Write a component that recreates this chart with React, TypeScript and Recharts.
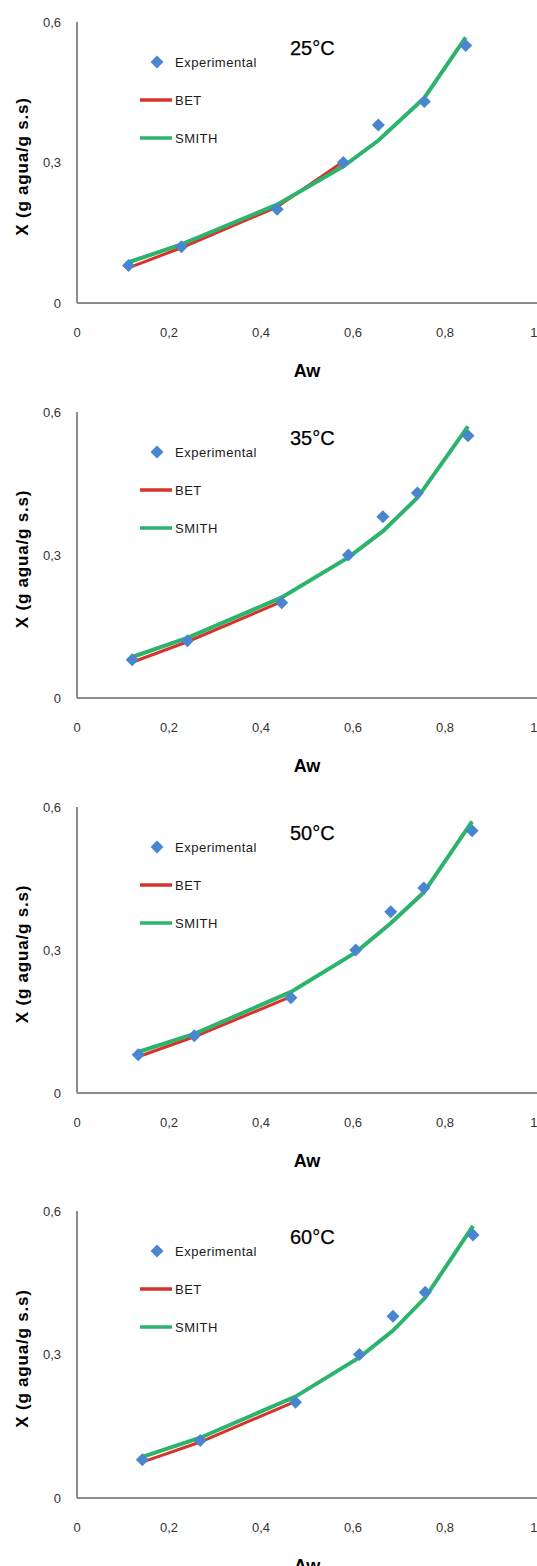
import React from "react";
import { ComposedChart, Line, Scatter, XAxis, YAxis, Legend } from "recharts";

// tick values shared by the four panels
const xTicks = [0, 0.2, 0.4, 0.6, 0.8, 1];
const yTicks = [0, 0.3, 0.6];

// experimental moisture (g agua / g s.s), same in every panel
const moisture = [0.08, 0.12, 0.2, 0.3, 0.38, 0.43, 0.55];

const aw25 = [0.112, 0.227, 0.435, 0.579, 0.655, 0.755, 0.845];
const smith25 = [0.087, 0.125, 0.21, 0.292, 0.347, 0.438, 0.567];
const bet25 = [0.075, 0.118, 0.205, 0.302];

const aw35 = [0.12, 0.24, 0.445, 0.59, 0.665, 0.74, 0.85];
const smith35 = [0.086, 0.126, 0.211, 0.295, 0.35, 0.42, 0.57];
const bet35 = [0.075, 0.118, 0.202];

const aw50 = [0.133, 0.255, 0.465, 0.606, 0.682, 0.754, 0.859];
const smith50 = [0.086, 0.124, 0.212, 0.295, 0.356, 0.421, 0.57];
const bet50 = [0.076, 0.118, 0.202];

const aw60 = [0.142, 0.268, 0.475, 0.614, 0.687, 0.757, 0.861];
const smith60 = [0.086, 0.126, 0.212, 0.294, 0.35, 0.419, 0.569];
const bet60 = [0.075, 0.117, 0.202];

const BLUE = "#4a86cf";
const RED = "#d7332a";
const GREEN = "#2cb36c";
const AXIS = "#8c8c8c";
const FONT = "'Liberation Sans', Arial, sans-serif";

const W = 537;
const H = 1566;
const TOP = 22;
const LEFT = 77;
const X_AXIS_H = 90;

const comma = (v: number) => String(v).replace(".", ",");

const Diamond = (props: any) => {
  const { cx, cy, fill } = props;
  const r = 6.5;
  return <path d={`M${cx},${cy - r}L${cx + r},${cy}L${cx},${cy + r}L${cx - r},${cy}Z`} fill={fill} />;
};

const LEGEND_ORDER = ["Experimental", "BET", "SMITH"];

const LegendBox = (props: any) => {
  const payload: any[] = props.payload || [];
  const rows = [TOP + 40, TOP + 78, TOP + 116];
  return (
    <svg width={270} height={160} style={{ display: "block" }}>
      {LEGEND_ORDER.map((name, i) => {
        const entry = payload.find((p) => p.value === name);
        const color = entry ? entry.color : "#000";
        const y = rows[i];
        return (
          <g key={name}>
            {name === "Experimental" ? (
              <Diamond cx={157} cy={y} fill={BLUE} />
            ) : (
              <line x1={140} x2={172} y1={y} y2={y} stroke={color} strokeWidth={3.5} />
            )}
            <text x={175} y={y + 4.5} fontSize={13} letterSpacing={0.5} fontFamily={FONT} fill="#1a1a1a">
              {name}
            </text>
          </g>
        );
      })}
    </svg>
  );
};

type PanelProps = {
  title: string;
  aw: number[];
  smith: number[];
  bet: number[];
  plotTop: number;
  plotHeight: number;
};

function Isotherm({ title, aw, smith, bet, plotTop, plotHeight }: PanelProps) {
  const experimental = aw.map((x, i) => ({ x, y: moisture[i] }));
  const smithData = aw.map((x, i) => ({ x, y: smith[i] }));
  const betData = bet.map((y, i) => ({ x: aw[i], y }));
  const height = TOP + plotHeight + X_AXIS_H;
  const plotW = W - LEFT;

  const AwLabel = () => (
    <text x={LEFT + plotW / 2} y={TOP + plotHeight + 74} textAnchor="middle" fontSize={18} fontWeight="bold" fontFamily={FONT} fill="#000">
      Aw
    </text>
  );
  const cy = TOP + plotHeight / 2 + 4;
  const YLabel = () => (
    <text x={27.5} y={cy} transform={`rotate(-90 27.5 ${cy})`} textAnchor="middle" fontSize={17} fontWeight="bold" letterSpacing={0.8} fontFamily={FONT} fill="#000">
      X (g agua/g s.s)
    </text>
  );

  return (
    <div style={{ position: "absolute", left: 0, top: plotTop - TOP, width: W, height }}>
      <ComposedChart width={W} height={height} margin={{ top: TOP, right: 0, bottom: 0, left: 0 }}>
        <XAxis
          type="number"
          dataKey="x"
          domain={[0, 1]}
          ticks={xTicks}
          tickFormatter={comma}
          height={X_AXIS_H}
          tickLine={false}
          tickMargin={19}
          axisLine={{ stroke: AXIS, strokeWidth: 2 }}
          tick={{ fontSize: 13, fill: "#333", fontFamily: FONT }}
          label={<AwLabel />}
        />
        <YAxis
          type="number"
          dataKey="y"
          domain={[0, 0.6]}
          ticks={yTicks}
          tickFormatter={comma}
          width={LEFT}
          tickLine={false}
          tickMargin={10}
          axisLine={{ stroke: AXIS, strokeWidth: 2 }}
          tick={{ fontSize: 13, fill: "#333", fontFamily: FONT }}
          label={<YLabel />}
        />
        <Legend
          layout="vertical"
          align="center"
          verticalAlign="middle"
          content={<LegendBox />}
          wrapperStyle={{ left: 0, top: 0, width: 270, height: 160 }}
        />
        <Line name="BET" data={betData} dataKey="y" stroke={RED} strokeWidth={3} dot={false} isAnimationActive={false} />
        <Line name="SMITH" data={smithData} dataKey="y" stroke={GREEN} strokeWidth={4} dot={false} isAnimationActive={false} />
        <Scatter name="Experimental" data={experimental} dataKey="y" fill={BLUE} shape={<Diamond />} isAnimationActive={false} />
      </ComposedChart>
      <svg width={W} height={60} style={{ position: "absolute", left: 0, top: 0, pointerEvents: "none" }}>
        <text x={290} y={TOP + 33} fontSize={20} fontFamily={FONT} fill="#000" stroke="#000" strokeWidth={0.25}>
          {title}
        </text>
      </svg>
    </div>
  );
}

export default function App() {
  return (
    <div style={{ position: "absolute", left: 0, top: 0, width: W, height: H, overflow: "hidden", background: "#fff" }}>
      <Isotherm title="25°C" aw={aw25} smith={smith25} bet={bet25} plotTop={22} plotHeight={281} />
      <Isotherm title="35°C" aw={aw35} smith={smith35} bet={bet35} plotTop={412} plotHeight={286} />
      <Isotherm title="50°C" aw={aw50} smith={smith50} bet={bet50} plotTop={807} plotHeight={286} />
      <Isotherm title="60°C" aw={aw60} smith={smith60} bet={bet60} plotTop={1211} plotHeight={287} />
    </div>
  );
}
